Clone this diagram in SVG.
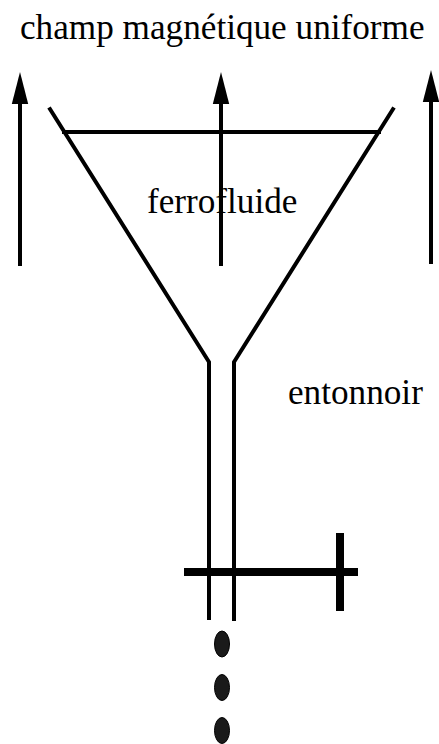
<svg xmlns="http://www.w3.org/2000/svg" width="439" height="744" viewBox="0 0 439 744">
<style>
text{font-family:"Liberation Serif","Times New Roman",serif;font-size:35.2px;fill:#000}
.l{fill:none;stroke:#000;stroke-width:4}
.a{stroke:#000;stroke-width:4;fill:none}
.h{fill:#000}
.d{fill:#1a1a1a;stroke:#000;stroke-width:1}
</style>
<rect width="439" height="744" fill="#fff"/>
<g id="connectors">
<path id="arrow1" class="a" d="M20 266V100"/><path class="h" d="M20 72L28.200 104H11.800Z"/>
<path id="arrow2" class="a" d="M221 266V100"/><path class="h" d="M221 72L229.200 104H212.800Z"/>
<path id="arrow3" class="a" d="M431 264V98"/><path class="h" d="M431 70L439.200 102H422.800Z"/>
</g>
<g id="entonnoir">
<path class="l" d="M49 107.500L209 362V620"/>
<path class="l" d="M394 107.500L234 362V621"/>
<path class="l" d="M62 132H381"/>
</g>
<g id="valve">
<path d="M184 572H358" stroke="#000" stroke-width="8" fill="none"/>
<path d="M340 533V611" stroke="#000" stroke-width="8" fill="none"/>
</g>
<g id="drops">
<ellipse class="d" cx="222" cy="644" rx="7.500" ry="13"/>
<ellipse class="d" cx="222" cy="687.500" rx="7.500" ry="13"/>
<ellipse class="d" cx="222" cy="730.500" rx="7.500" ry="13"/>
</g>
<g id="labels">
<text x="20" y="39">champ magnétique uniforme</text>
<text x="147" y="213">ferrofluide</text>
<text x="288" y="404">entonnoir</text>
</g>
</svg>
